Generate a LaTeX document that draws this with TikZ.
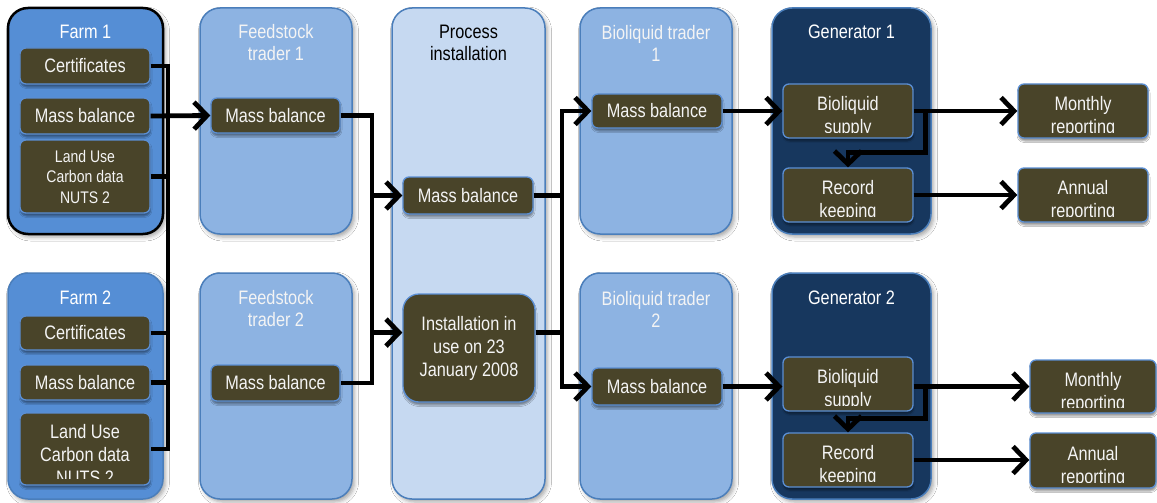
\documentclass[tikz,border=0pt]{standalone}
\usepackage{fontspec}
\setmainfont{Liberation Sans}[FakeStretch=0.835]
\usetikzlibrary{arrows.meta,calc,shadows.blur}

\definecolor{farmblue}{HTML}{558ED5}
\definecolor{traderblue}{HTML}{8DB3E2}
\definecolor{processblue}{HTML}{C6D9F1}
\definecolor{generatornavy}{HTML}{17375E}
\definecolor{panelline}{HTML}{4A7EBB}
\definecolor{itemfill}{HTML}{494429}
\definecolor{itemline}{HTML}{5B8FD4}
\definecolor{softwhite}{HTML}{F4F4F4}

\begin{document}
\begin{tikzpicture}[x=1pt,y=-1pt,
  panelbox/.style={draw=panelline, line width=1.5pt, rounded corners=20pt,
    inner sep=0pt, minimum height=226pt,
    blur shadow={shadow xshift=2.5pt, shadow yshift=-3pt,
      shadow blur radius=4pt, shadow opacity=35}},
  itembox/.style={draw=itemline, line width=1.3pt, fill=itemfill,
    rounded corners=6pt, inner sep=0pt, minimum width=130pt,
    text=softwhite, align=center, font=\fontsize{19.5}{23}\selectfont,
    blur shadow={shadow xshift=0.5pt, shadow yshift=-3pt,
      shadow blur radius=1.5pt, shadow opacity=40}},
  itemtext/.style={text=softwhite, align=center, inner sep=0pt,
    font=\fontsize{19.5}{23}\selectfont},
  titletext/.style={text=white, align=center, inner sep=0pt,
    font=\fontsize{19.5}{22}\selectfont},
  flow/.style={line width=4.8pt, line join=miter, line cap=butt},
  flowarrow/.style={flow, -{Straight Barb[length=13pt,width=27pt]}},
]
\fill[white] (0,0) rectangle (1157,503);
\useasboundingbox (0,0) rectangle (1157,503);

% ---- columns ----
\node[panelbox, draw=black, line width=2.5pt, fill=farmblue, minimum width=155pt] (farm1) at (85.5,121) {};
\node[panelbox, fill=farmblue, minimum width=155pt] (farm2) at (85.5,386) {};
\node[panelbox, fill=traderblue, minimum width=152pt] (feed1) at (276,121) {};
\node[panelbox, fill=traderblue, minimum width=152pt] (feed2) at (276,386) {};
\node[panelbox, fill=processblue, minimum width=153pt, minimum height=491pt] (proc) at (468.5,253.5) {};
\node[panelbox, fill=traderblue, minimum width=152pt] (bio1) at (656,121) {};
\node[panelbox, fill=traderblue, minimum width=152pt] (bio2) at (656,386) {};
\node[panelbox, fill=generatornavy, minimum width=159pt] (gen1) at (851.5,121) {};
\node[panelbox, fill=generatornavy, minimum width=159pt] (gen2) at (851.5,386) {};

% ---- column titles ----
\node[titletext] (farm1title) at (85.5,32) {Farm 1};
\node[titletext] (farm2title) at (85.5,298) {Farm 2};
\node[titletext, text=softwhite] (feed1title) at (276,43) {Feedstock\\trader 1};
\node[titletext, text=softwhite] (feed2title) at (276,309) {Feedstock\\trader 2};
\node[titletext, text=black] (proctitle) at (468.5,43) {Process\\installation};
\node[titletext, text=softwhite] (bio1title) at (656,43) {Bioliquid trader\\1};
\node[titletext, text=softwhite] (bio2title) at (656,309) {Bioliquid trader\\2};
\node[titletext] (gen1title) at (851.5,32) {Generator 1};
\node[titletext] (gen2title) at (851.5,298) {Generator 2};

% ---- farms ----
\node[itembox, minimum height=36pt] (f1cert) at (85,66) {Certificates};
\node[itembox, minimum height=36pt] (f1mass) at (85,116) {Mass balance};
\node[itembox, minimum height=73pt, font=\fontsize{16.8}{20.5}\selectfont] (f1land) at (85,176.5) {Land Use\\Carbon data\\NUTS 2};
\node[itembox, minimum height=34pt] (f2cert) at (85,333) {Certificates};
\node[itembox, minimum height=35pt] (f2mass) at (85,382.5) {Mass balance};
\node[itembox, minimum height=72pt] (f2land) at (85,449) {};
\begin{scope}
  \clip (f2land.north west) rectangle ($(f2land.south east)+(0,-7)$);
  \node[itemtext] (f2landtext) at ($(f2land.center)+(0,6)$) {Land Use\\Carbon data\\NUTS 2};
\end{scope}

% ---- feedstock traders ----
\node[itembox, minimum width=129pt, minimum height=35pt] (t1mass) at (275.5,115.5) {Mass balance};
\node[itembox, minimum width=129pt, minimum height=36pt] (t2mass) at (275.5,383) {Mass balance};

% ---- process installation ----
\node[itembox, minimum height=37pt] (pmass) at (468,195.5) {Mass balance};
\node[itembox, minimum width=132pt, minimum height=108pt, rounded corners=16pt] (pinst) at (469,348) {Installation in\\use on 23\\January 2008};

% ---- bioliquid traders ----
\node[itembox, minimum height=34pt] (b1mass) at (657,111) {Mass balance};
\node[itembox, minimum height=37pt] (b2mass) at (657,386.5) {Mass balance};

% ---- generators and reporting ----
\node[itembox, minimum height=54pt] (g1sup) at (848,111) {};
\node[itembox, minimum height=54pt] (g1rec) at (848,195) {};
\node[itembox, minimum height=54pt] (g1mon) at (1083,111) {};
\node[itembox, minimum height=54pt] (g1ann) at (1083,195) {};
\node[itembox, minimum height=54pt] (g2sup) at (848,384) {};
\node[itembox, minimum height=54pt] (g2rec) at (848,460) {};
\node[itembox, minimum width=126pt, minimum height=53pt] (g2mon) at (1093,386.5) {};
\node[itembox, minimum width=126pt, minimum height=55pt] (g2ann) at (1093,460.5) {};

\foreach \bx/\txt in {g1sup/{Bioliquid\\supply}, g1rec/{Record\\keeping},
    g1mon/{Monthly\\reporting}, g1ann/{Annual\\reporting},
    g2sup/{Bioliquid\\supply}, g2rec/{Record\\keeping},
    g2mon/{Monthly\\reporting}, g2ann/{Annual\\reporting}} {
  \begin{scope}
    \clip (\bx.north west) rectangle ($(\bx.south east)+(0,-6.5)$);
    \node[itemtext] (\bx text) at ($(\bx.center)+(0,6)$) {\txt};
  \end{scope}
}

% ---- connectors: farms to feedstock traders ----
\coordinate (busA) at (168,0);
\draw[flow] (f1cert.east) -| (busA |- f2land.east) -- (f2land.east);
\draw[flow] (f1land.east) -- (busA |- f1land.east);
\draw[flow] (f2cert.east) -- (busA |- f2cert.east);
\draw[flow] (f2mass.east) -- (busA |- f2mass.east);
\draw[flowarrow] (f1mass.east) -- (t1mass.west);

% ---- feedstock traders to process installation ----
\coordinate (busB) at (372,0);
\draw[flow] (t1mass.east) -| (busB |- t2mass.east) -- (t2mass.east);
\draw[flowarrow] (busB |- pmass.west) -- (pmass.west);
\draw[flowarrow] (busB |- pinst.167) -- (pinst.167);

% ---- process installation to bioliquid traders ----
\coordinate (busC) at (562,0);
\draw[flow] (pmass.east) -- (busC |- pmass.east);
\draw[flow] (pinst.13) -- (busC |- pinst.13);
\draw[flowarrow] (busC |- b2mass.west) -- (busC |- b1mass.west) -- (b1mass.west);
\draw[flowarrow] (busC |- b1mass.west) -- (busC |- b2mass.west) -- (b2mass.west);

% ---- bioliquid traders to generators ----
\draw[flowarrow] (b1mass.east) -- (g1sup.west);
\draw[flowarrow] (b2mass.east) -- (b2mass.east -| g2sup.west);

% ---- generator 1 ----
\draw[flowarrow] (g1sup.east) -- (g1mon.west);
\draw[flowarrow] ($(g1sup.east)+(12,0)$) |- ($(g1rec.north)+(0,-15)$) -- (g1rec.north);
\draw[flowarrow] (g1rec.east) -- (g1ann.west);

% ---- generator 2 ----
\draw[flowarrow] (g2mon.west -| g2sup.east) -- (g2mon.west);
\draw[flowarrow] ($(g2mon.west -| g2sup.east)+(12,0)$) |- ($(g2rec.north)+(0,-14)$) -- (g2rec.north);
\draw[flowarrow] (g2rec.east) -- (g2rec.east -| g2ann.west);
\end{tikzpicture}
\end{document}
